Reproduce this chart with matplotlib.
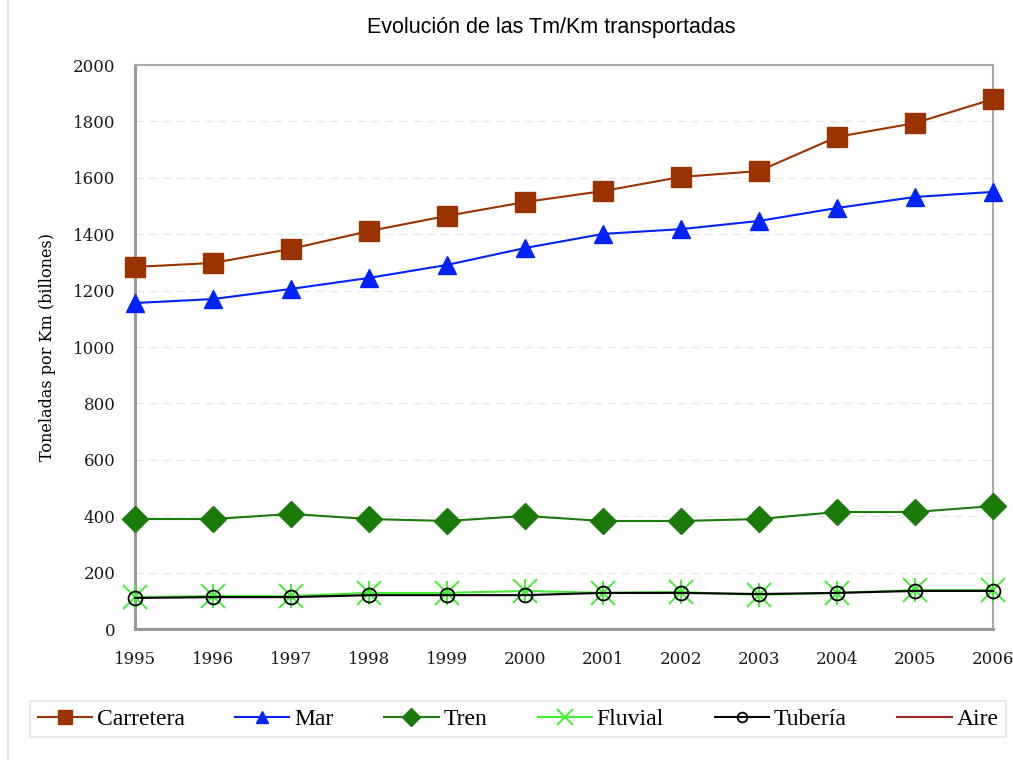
import numpy as np
import matplotlib.pyplot as plt
from matplotlib.ticker import MultipleLocator

# toneladas-km transportadas por modo (billones)
anios = [1995, 1996, 1997, 1998, 1999, 2000, 2001, 2002, 2003, 2004, 2005, 2006]
carretera = [1284, 1298, 1348, 1411, 1465, 1514, 1553, 1603, 1624, 1745, 1794, 1879]
mar = [1156, 1170, 1206, 1245, 1291, 1351, 1401, 1418, 1447, 1493, 1532, 1550]
tren = [390, 390, 408, 390, 383, 401, 383, 383, 390, 415, 415, 436]
fluvial = [113, 117, 117, 128, 128, 135, 128, 131, 121, 128, 138, 138]
tuberia = [110, 113, 113, 120, 120, 120, 128, 128, 124, 128, 135, 135]
aire = [1, 1, 1, 1, 1, 1, 1, 1, 1, 1, 1, 1]

serif = ['DejaVu Serif']
serif_leg = ['Liberation Serif', 'DejaVu Serif']

fig = plt.figure(figsize=(10.13, 7.6), dpi=100)
ax = fig.add_axes([135 / 1013, 1 - 629 / 760, (993 - 135) / 1013, (629 - 65) / 760])

ax.plot(anios, aire, color='#992222', lw=1.5, label='Aire', zorder=1)
ax.plot(anios, carretera, color='#993300', lw=1.5, marker='s', ms=14,
        mec='#993300', label='Carretera', zorder=5, clip_on=False)
ax.plot(anios, mar, color='#0022ff', lw=1.5, marker='^', ms=13,
        label='Mar', zorder=5, clip_on=False)
ax.plot(anios, tren, color='#1a7a0a', lw=1.5, marker='D', ms=13,
        label='Tren', zorder=5, clip_on=False)
ax.plot(anios, fluvial, color='#44ee33', lw=1.5, marker='x', ms=17, mew=1.4,
        label='Fluvial', zorder=4, clip_on=False)
ax.plot(anios, fluvial, color='#44ee33', lw=0, marker='|', ms=17, mew=1.4,
        zorder=4, clip_on=False)
ax.plot(anios, tuberia, color='black', lw=1.5, marker='o', ms=10,
        mfc='none', mew=1.3, label='Tubería', zorder=5, clip_on=False)

ax.set_xlim(1995, 2006)
ax.set_ylim(0, 2000)
ax.set_xticks(anios)
ax.yaxis.set_major_locator(MultipleLocator(200))
ax.grid(axis='y', color='#e8e8e8', ls=(0, (6, 4)), lw=1)
ax.set_axisbelow(True)

for s in ['top', 'right']:
    ax.spines[s].set_color('#aaaaaa')
    ax.spines[s].set_linewidth(1.5)
for s in ['left', 'bottom']:
    ax.spines[s].set_color('#999999')
    ax.spines[s].set_linewidth(2.2)

ax.tick_params(axis='both', length=0, labelsize=12, colors='#1a1a1a')
ax.tick_params(axis='x', pad=16)
ax.tick_params(axis='y', pad=14)
for lab in ax.get_xticklabels() + ax.get_yticklabels():
    lab.set_family(serif)

ax.set_ylabel('Toneladas por Km (billones)', family=serif, fontsize=11.5,
              labelpad=12)
fig.text(551 / 1013, 1 - 27 / 760, 'Evolución de las Tm/Km transportadas',
         ha='center', va='center', fontsize=15.5, family='Liberation Sans')

# leyenda en una fila, en el orden de las series
h, l = ax.get_legend_handles_labels()
orden = ['Carretera', 'Mar', 'Tren', 'Fluvial', 'Tubería', 'Aire']
h = [h[l.index(n)] for n in orden]
leg = fig.legend(h, orden, loc='center', bbox_to_anchor=(518 / 1013, 1 - 719 / 760),
                 ncol=6, prop={'family': serif_leg, 'size': 17}, frameon=True,
                 fancybox=False, handlelength=2.3, handletextpad=0.2,
                 columnspacing=2.15, borderpad=0.3, markerscale=0.7)
leg.get_frame().set_edgecolor('#dddddd')
leg.get_frame().set_linewidth(1.2)

# borde izquierdo del recuadro
fig.add_artist(plt.Line2D([8 / 1013, 8 / 1013], [0, 1], color='#dddddd', lw=1.2))

fig.savefig('out.png', dpi=100)
